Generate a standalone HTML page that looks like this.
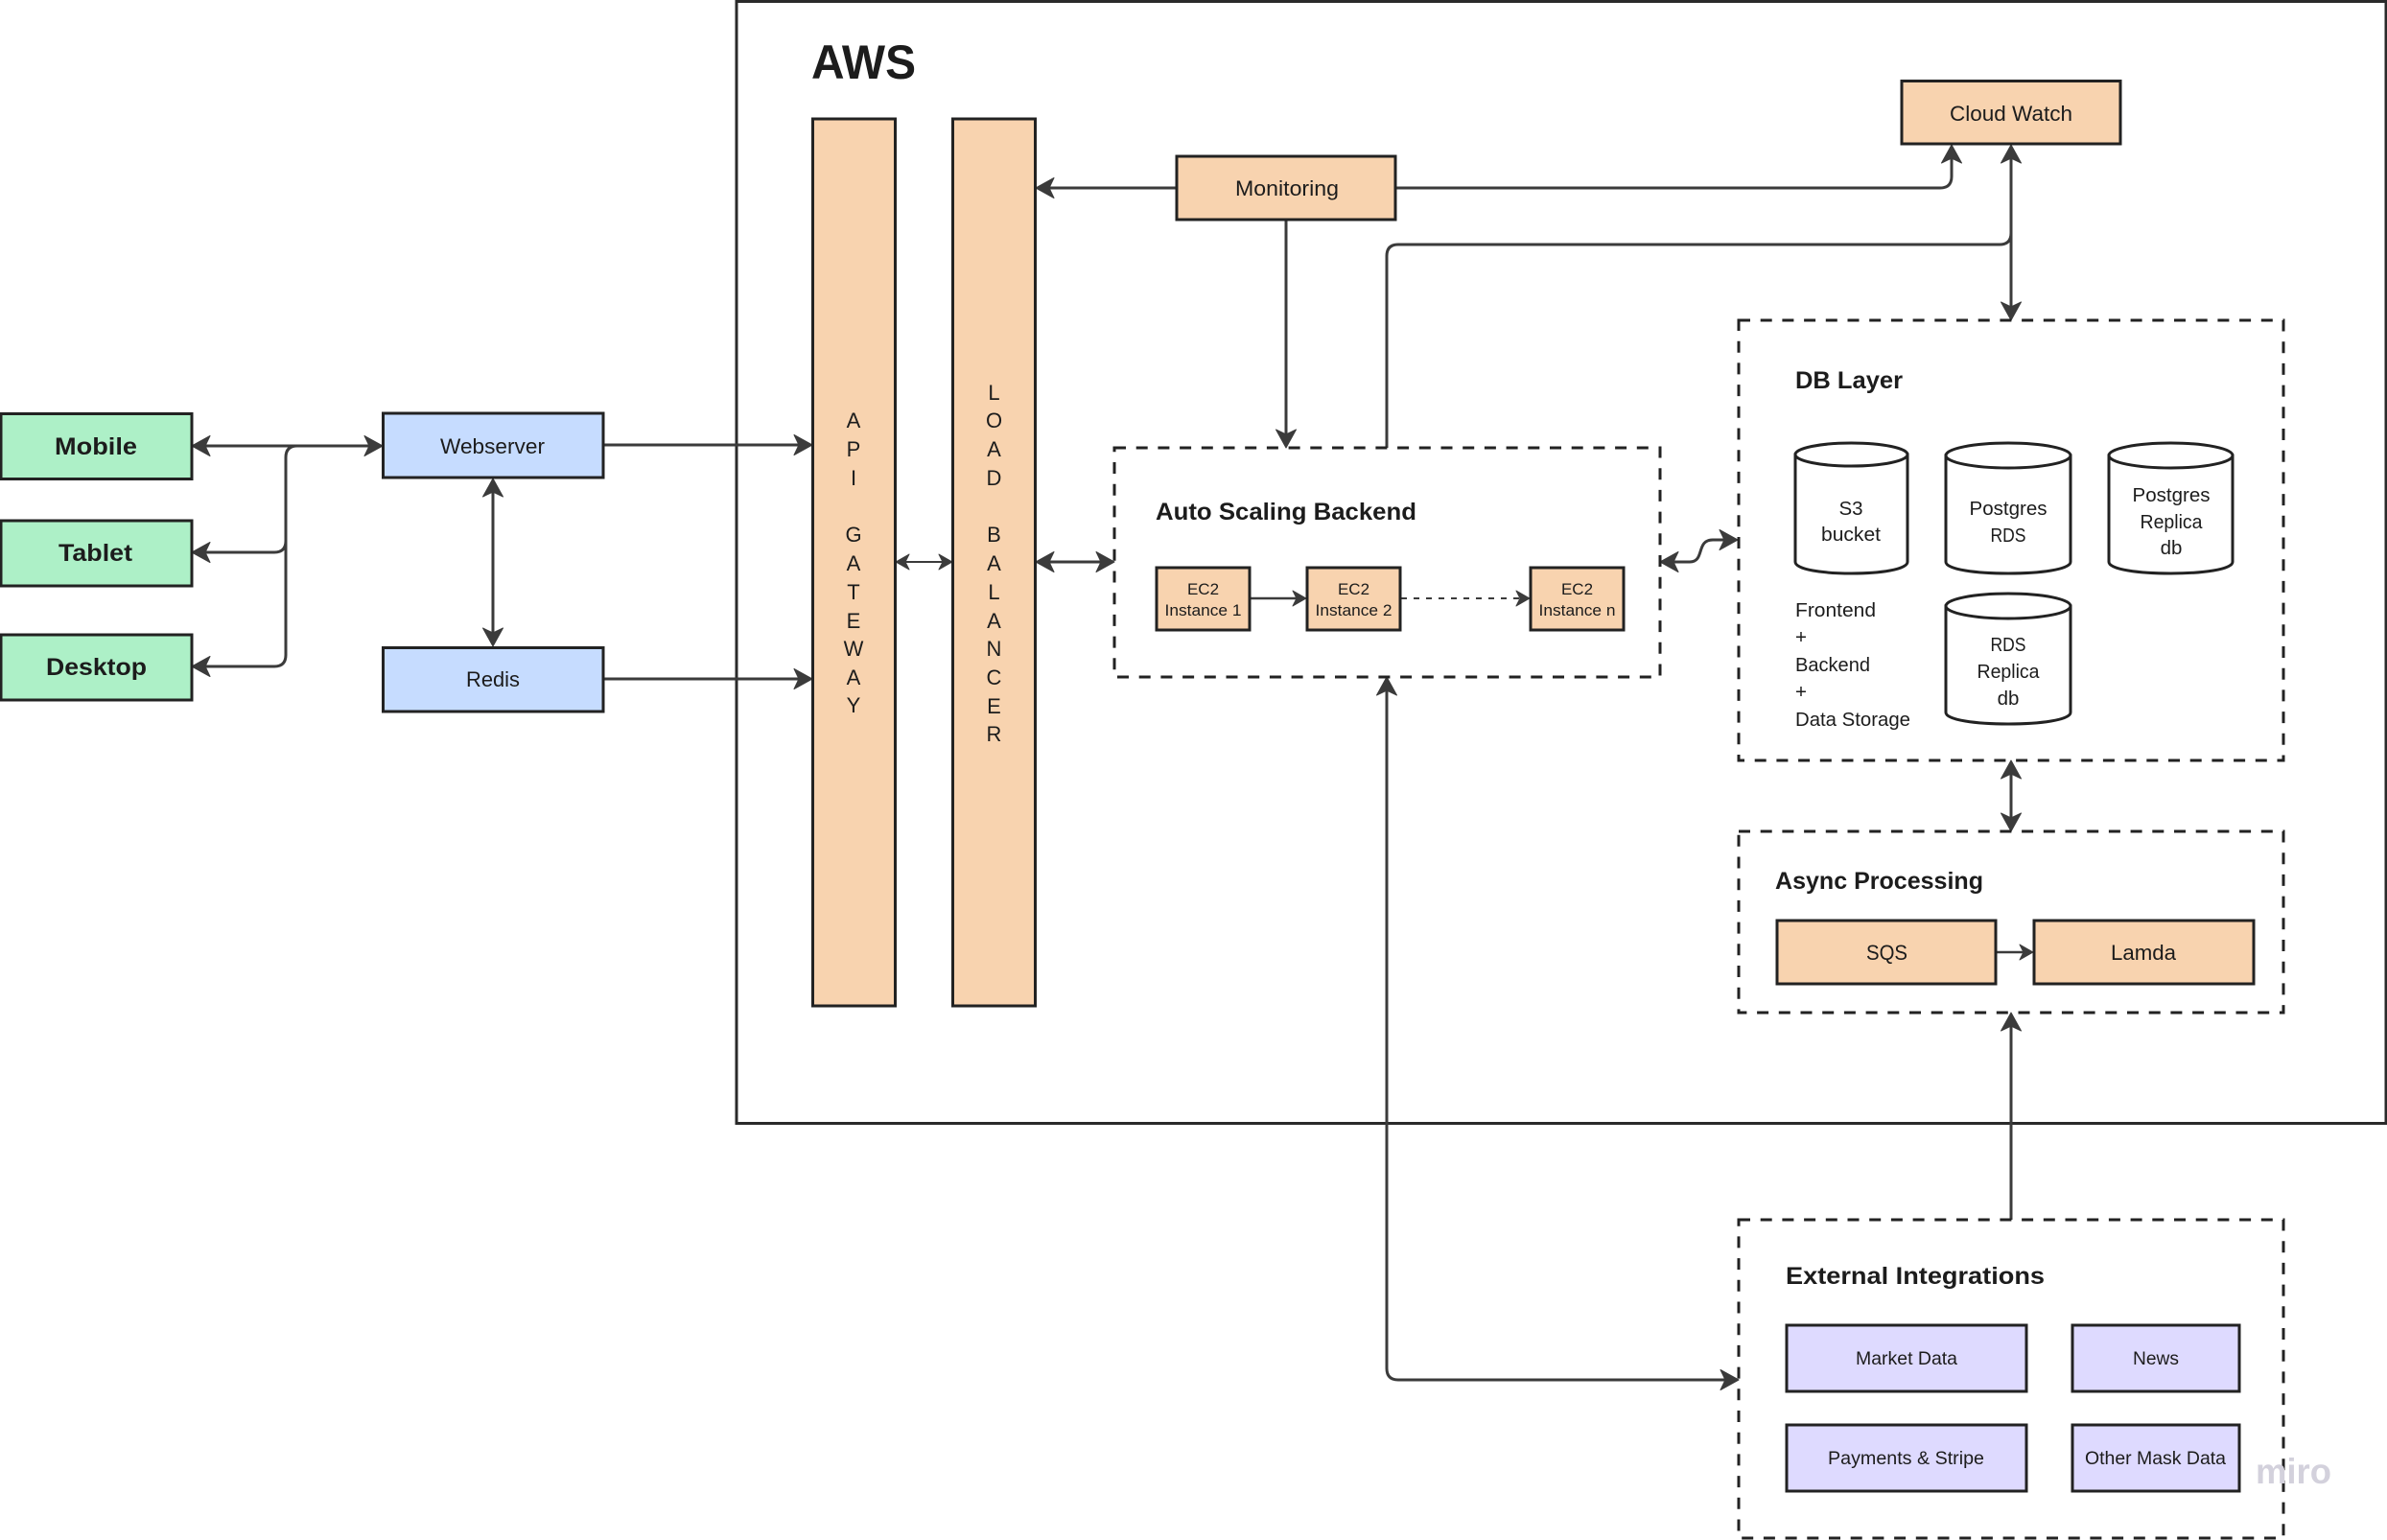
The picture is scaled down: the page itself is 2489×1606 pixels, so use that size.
<!DOCTYPE html>
<html lang="en">
<head>
<meta charset="utf-8">
<title>AWS Architecture Diagram</title>
<style>
html,body{margin:0;padding:0;background:#fff;width:2489px;height:1606px;overflow:hidden}
svg{display:block}
text{font-family:"Liberation Sans",sans-serif;fill:#1c1c1c}
.b{font-weight:700}
.box{stroke:#222;stroke-width:3}
.peach{fill:#f8d3af}.green{fill:#adf0c7}.blue{fill:#c6dcff}.purple{fill:#dedaff}
.dash{fill:none;stroke:#222;stroke-width:3;stroke-dasharray:12 10.7}
.c{fill:none;stroke:#3b3b3b;stroke-width:3}
.cyl{fill:#fff;stroke:#222;stroke-width:3}
.m{text-anchor:middle}
</style>
</head>
<body>
<svg width="2489" height="1606" viewBox="0 0 2489 1606" xmlns="http://www.w3.org/2000/svg">
<defs>
<marker id="a" markerUnits="userSpaceOnUse" markerWidth="24" markerHeight="24" viewBox="0 0 24 24" refX="17" refY="12" orient="auto-start-reverse">
<path d="M21,12 L2,1.5 L7,12 L2,22.5 Z" fill="#3b3b3b" stroke="#3b3b3b" stroke-width="1" stroke-linejoin="round"/>
</marker>
<marker id="s" markerUnits="userSpaceOnUse" markerWidth="24" markerHeight="24" viewBox="0 0 24 24" refX="14" refY="12" orient="auto-start-reverse">
<path d="M18,12 L4,4 L8,12 L4,20 Z" fill="#3b3b3b" stroke="#3b3b3b" stroke-width="1" stroke-linejoin="round"/>
</marker>
</defs>
<rect x="0" y="0" width="2489" height="1606" fill="#fff"/>

<!-- AWS frame -->
<rect x="768" y="1.5" width="1720" height="1170" fill="#fff" stroke="#2a2a2a" stroke-width="3"/>
<text class="b" x="846" y="82" font-size="50" textLength="109" lengthAdjust="spacingAndGlyphs">AWS</text>

<!-- Connectors -->
<path class="c" d="M204,465 H395" marker-start="url(#a)" marker-end="url(#a)"/>
<path class="c" d="M330,465 H310 Q298,465 298,477 V564 Q298,576 286,576 H204" marker-end="url(#a)"/>
<path class="c" d="M298,560 V683 Q298,695 286,695 H204" marker-end="url(#a)"/>
<path class="c" d="M630,464 H843" marker-end="url(#a)"/>
<path class="c" d="M630,708 H843" marker-end="url(#a)"/>
<path class="c" d="M514,503 V670" marker-start="url(#a)" marker-end="url(#a)"/>
<path class="c" style="stroke-width:2" d="M938,586 H989" marker-start="url(#s)" marker-end="url(#s)"/>
<path class="c" d="M1084,586 H1158" marker-start="url(#a)" marker-end="url(#a)"/>
<path class="c" d="M1226,196 H1084" marker-end="url(#a)"/>
<path class="c" d="M1341,230 V463" marker-end="url(#a)"/>
<path class="c" d="M1456,196 H2023 Q2035,196 2035,184 V155" marker-end="url(#a)"/>
<path class="c" d="M1446,467 V267 Q1446,255 1458,255 H2085 Q2097,255 2097,243"/>
<path class="c" d="M2097,155 V330" marker-start="url(#a)" marker-end="url(#a)"/>
<path class="c" d="M1735,586 H1762 C1778,586 1768,563 1786,563 H1808" marker-start="url(#a)" marker-end="url(#a)"/>
<path class="c" d="M2097,797 V863" marker-start="url(#a)" marker-end="url(#a)"/>
<path class="c" d="M2097,1272 V1060" marker-end="url(#a)"/>
<path class="c" d="M1446,710 V1427 Q1446,1439 1458,1439 H1809" marker-start="url(#a)" marker-end="url(#a)"/>
<path class="c" style="stroke-width:2.5" d="M1304,624 H1358" marker-end="url(#s)"/>
<path class="c" style="stroke-width:2;stroke-dasharray:6 7" d="M1461,624 H1591" marker-end="url(#s)"/>
<path class="c" style="stroke-width:2.5" d="M2082,993 H2116" marker-end="url(#s)"/>

<!-- Client boxes -->
<rect class="box green" x="1" y="431.5" width="199" height="68"/>
<rect class="box green" x="1" y="543" width="199" height="68"/>
<rect class="box green" x="1" y="662" width="199" height="68"/>
<text class="b" x="57" y="474" font-size="25" textLength="86" lengthAdjust="spacingAndGlyphs">Mobile</text>
<text class="b" x="61" y="585" font-size="25" textLength="77" lengthAdjust="spacingAndGlyphs">Tablet</text>
<text class="b" x="48" y="704" font-size="25" textLength="105" lengthAdjust="spacingAndGlyphs">Desktop</text>

<rect class="box blue" x="399.5" y="431" width="229.5" height="67"/>
<rect class="box blue" x="399.5" y="675.5" width="229.5" height="66.5"/>
<text x="459" y="473" font-size="22" textLength="109" lengthAdjust="spacingAndGlyphs">Webserver</text>
<text x="486" y="716" font-size="22" textLength="56" lengthAdjust="spacingAndGlyphs">Redis</text>

<!-- Gateway & LB -->
<rect class="box peach" x="847.5" y="124" width="86" height="925"/>
<rect class="box peach" x="993.5" y="124" width="86" height="925"/>
<g font-size="22" class="m">
<text class="m" x="890" y="446">A</text>
<text class="m" x="890" y="476">P</text>
<text class="m" x="890" y="506">I</text>
<text class="m" x="890" y="565">G</text>
<text class="m" x="890" y="595">A</text>
<text class="m" x="890" y="625">T</text>
<text class="m" x="890" y="655">E</text>
<text class="m" x="890" y="684">W</text>
<text class="m" x="890" y="714">A</text>
<text class="m" x="890" y="743">Y</text>
<text class="m" x="1036.5" y="417">L</text>
<text class="m" x="1036.5" y="446">O</text>
<text class="m" x="1036.5" y="476">A</text>
<text class="m" x="1036.5" y="506">D</text>
<text class="m" x="1036.5" y="565">B</text>
<text class="m" x="1036.5" y="595">A</text>
<text class="m" x="1036.5" y="625">L</text>
<text class="m" x="1036.5" y="655">A</text>
<text class="m" x="1036.5" y="684">N</text>
<text class="m" x="1036.5" y="714">C</text>
<text class="m" x="1036.5" y="744">E</text>
<text class="m" x="1036.5" y="773">R</text>
</g>

<!-- Monitoring / Cloud Watch -->
<rect class="box peach" x="1227" y="163" width="228" height="66"/>
<text x="1288" y="204" font-size="22" textLength="108" lengthAdjust="spacingAndGlyphs">Monitoring</text>
<rect class="box peach" x="1983" y="84.5" width="228" height="65.5"/>
<text x="2033" y="126" font-size="22" textLength="128" lengthAdjust="spacingAndGlyphs">Cloud Watch</text>

<!-- Auto scaling -->
<rect class="dash" x="1162" y="467" width="569" height="239"/>
<text class="b" x="1205" y="542" font-size="25" textLength="272" lengthAdjust="spacingAndGlyphs">Auto Scaling Backend</text>
<rect class="box peach" x="1206" y="592" width="97" height="65"/>
<rect class="box peach" x="1363" y="592" width="97" height="65"/>
<rect class="box peach" x="1596" y="592" width="97" height="65"/>
<g font-size="17">
<text class="m" x="1254.5" y="620">EC2</text>
<text class="m" x="1254.5" y="642" textLength="80" lengthAdjust="spacingAndGlyphs">Instance 1</text>
<text class="m" x="1411.5" y="620">EC2</text>
<text class="m" x="1411.5" y="642" textLength="80" lengthAdjust="spacingAndGlyphs">Instance 2</text>
<text class="m" x="1644.5" y="620">EC2</text>
<text class="m" x="1644.5" y="642" textLength="80" lengthAdjust="spacingAndGlyphs">Instance n</text>
</g>

<!-- DB Layer -->
<rect class="dash" x="1813" y="334" width="568" height="459"/>
<text class="b" x="1872" y="405" font-size="25" textLength="112" lengthAdjust="spacingAndGlyphs">DB Layer</text>
<path class="cyl" d="M1872,474 V586 C1872,602 1989,602 1989,586 V474 Z"/>
<ellipse class="cyl" cx="1930.5" cy="474" rx="58.5" ry="12"/>
<path class="cyl" d="M2029,475 V586 C2029,602 2159,602 2159,586 V475 Z"/>
<ellipse class="cyl" cx="2094" cy="475" rx="65" ry="13"/>
<path class="cyl" d="M2199,475 V586 C2199,602 2328,602 2328,586 V475 Z"/>
<ellipse class="cyl" cx="2263.5" cy="475" rx="64.5" ry="13"/>
<path class="cyl" d="M2029,632 V743 C2029,759 2159,759 2159,743 V632 Z"/>
<ellipse class="cyl" cx="2094" cy="632" rx="65" ry="13"/>
<g font-size="20.5">
<text class="m" x="1930" y="537">S3</text>
<text class="m" x="1930" y="564" textLength="62" lengthAdjust="spacingAndGlyphs">bucket</text>
<text class="m" x="2094" y="537" textLength="81" lengthAdjust="spacingAndGlyphs">Postgres</text>
<text class="m" x="2094" y="565" textLength="37" lengthAdjust="spacingAndGlyphs">RDS</text>
<text class="m" x="2264" y="523" textLength="81" lengthAdjust="spacingAndGlyphs">Postgres</text>
<text class="m" x="2264" y="551" textLength="65" lengthAdjust="spacingAndGlyphs">Replica</text>
<text class="m" x="2264" y="578">db</text>
<text class="m" x="2094" y="679" textLength="37" lengthAdjust="spacingAndGlyphs">RDS</text>
<text class="m" x="2094" y="707" textLength="65" lengthAdjust="spacingAndGlyphs">Replica</text>
<text class="m" x="2094" y="735">db</text>
<text x="1872" y="643" textLength="84" lengthAdjust="spacingAndGlyphs">Frontend</text>
<text x="1872" y="671">+</text>
<text x="1872" y="700" textLength="78" lengthAdjust="spacingAndGlyphs">Backend</text>
<text x="1872" y="728">+</text>
<text x="1872" y="757" textLength="120" lengthAdjust="spacingAndGlyphs">Data Storage</text>
</g>

<!-- Async -->
<rect class="dash" x="1813" y="867" width="568" height="189"/>
<text class="b" x="1851" y="927" font-size="25" textLength="217" lengthAdjust="spacingAndGlyphs">Async Processing</text>
<rect class="box peach" x="1853" y="960" width="228" height="66"/>
<rect class="box peach" x="2121" y="960" width="229" height="66"/>
<text x="1946" y="1001" font-size="22" textLength="43" lengthAdjust="spacingAndGlyphs">SQS</text>
<text x="2201" y="1001" font-size="22" textLength="68" lengthAdjust="spacingAndGlyphs">Lamda</text>

<!-- External -->
<rect class="dash" x="1813" y="1272" width="568" height="332"/>
<text class="b" x="1862" y="1339" font-size="25" textLength="270" lengthAdjust="spacingAndGlyphs">External Integrations</text>
<rect class="box purple" x="1863" y="1382" width="250" height="69"/>
<rect class="box purple" x="2161" y="1382" width="174" height="69"/>
<rect class="box purple" x="1863" y="1486" width="250" height="69"/>
<rect class="box purple" x="2161" y="1486" width="174" height="69"/>
<g font-size="19.5">
<text x="1935" y="1423" textLength="106" lengthAdjust="spacingAndGlyphs">Market Data</text>
<text x="2224" y="1423" textLength="48" lengthAdjust="spacingAndGlyphs">News</text>
<text x="1906" y="1527" textLength="163" lengthAdjust="spacingAndGlyphs">Payments &amp; Stripe</text>
<text x="2174" y="1527" textLength="147" lengthAdjust="spacingAndGlyphs">Other Mask Data</text>
</g>

<!-- Watermark -->
<text x="2352" y="1547" font-size="37" style="fill:#d3d1dc;font-weight:700" textLength="79" lengthAdjust="spacingAndGlyphs">miro</text>
</svg>
</body>
</html>
